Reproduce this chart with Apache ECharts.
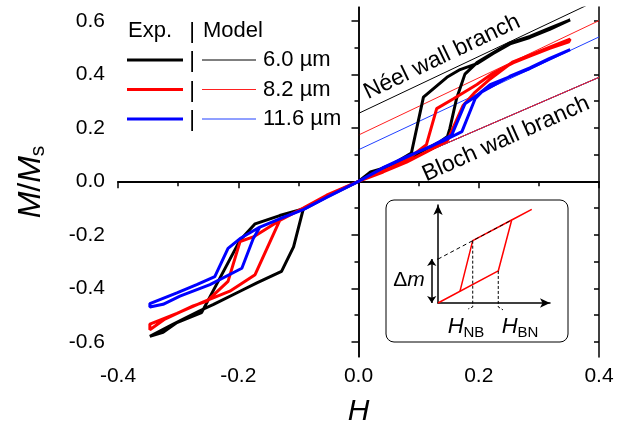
<!DOCTYPE html>
<html><head><meta charset="utf-8">
<script src="https://cdn.jsdelivr.net/npm/echarts@6/dist/echarts.min.js"></script>
<style>html,body{margin:0;padding:0;background:#fff}#c{width:632px;height:432px}</style>
</head><body><div id="c"></div>
<script>
// ---- tick values ----
const xMin = -0.4, xMax = 0.4, xStep = 0.2;
const yMajor = [-0.6, -0.4, -0.2, 0, 0.2, 0.4, 0.6];
const yMinor = [-0.5, -0.3, -0.1, 0.1, 0.3, 0.5];
const yAll = [-0.6, -0.5, -0.4, -0.3, -0.2, -0.1, 0, 0.1, 0.2, 0.3, 0.4, 0.5, 0.6];

// ---- experimental loops (H, M/Ms) ----
const exp60 = [
  [0,0],[0.02,0.035],[0.05,0.055],[0.088,0.09],[0.113,0.122],[0.136,0.148],[0.148,0.168],[0.152,0.198],[0.163,0.309],[0.177,0.401],[0.197,0.444],[0.224,0.481],[0.252,0.518],[0.285,0.542],[0.318,0.573],[0.352,0.604],
  [0.35,0.598],[0.318,0.568],[0.285,0.538],[0.252,0.514],[0.224,0.478],[0.197,0.44],[0.169,0.418],[0.147,0.389],[0.108,0.315],[0.088,0.106],[0.06,0.068],[0.03,0.04],[0,0],
  [-0.02,-0.022],[-0.053,-0.058],[-0.092,-0.105],[-0.108,-0.245],[-0.128,-0.337],[-0.169,-0.38],[-0.197,-0.411],[-0.241,-0.46],[-0.264,-0.484],[-0.308,-0.534],[-0.347,-0.58],
  [-0.347,-0.585],[-0.325,-0.565],[-0.302,-0.528],[-0.261,-0.491],[-0.197,-0.22],[-0.172,-0.159],[-0.131,-0.128],[-0.092,-0.103],[-0.053,-0.056],[0,0]
];
const exp82 = [
  [0,0],[0.041,0.035],[0.08,0.072],[0.113,0.11],[0.148,0.152],[0.152,0.173],[0.174,0.284],[0.194,0.334],[0.219,0.383],[0.257,0.447],[0.285,0.472],[0.318,0.502],[0.352,0.532],
  [0.35,0.522],[0.318,0.497],[0.285,0.468],[0.257,0.443],[0.224,0.405],[0.197,0.362],[0.158,0.309],[0.13,0.272],[0.113,0.137],[0.08,0.08],[0.041,0.038],[0,0],
  [-0.053,-0.054],[-0.092,-0.1],[-0.131,-0.146],[-0.172,-0.349],[-0.214,-0.411],[-0.258,-0.451],[-0.302,-0.494],[-0.347,-0.534],
  [-0.347,-0.555],[-0.322,-0.515],[-0.275,-0.466],[-0.252,-0.448],[-0.217,-0.374],[-0.197,-0.225],[-0.175,-0.208],[-0.153,-0.177],[-0.131,-0.146],[-0.092,-0.1],[-0.053,-0.052],[0,0]
];
const exp116 = [
  [0,0],[0.041,0.05],[0.097,0.108],[0.14,0.15],[0.172,0.186],[0.194,0.309],[0.205,0.334],[0.252,0.393],[0.285,0.424],[0.318,0.46],[0.352,0.493],
  [0.35,0.487],[0.318,0.458],[0.285,0.422],[0.252,0.392],[0.219,0.362],[0.197,0.321],[0.177,0.29],[0.155,0.173],[0.12,0.13],[0.08,0.092],[0.04,0.05],[0,0],
  [-0.053,-0.06],[-0.092,-0.106],[-0.131,-0.14],[-0.164,-0.171],[-0.175,-0.214],[-0.194,-0.325],[-0.247,-0.386],[-0.297,-0.429],[-0.325,-0.46],[-0.347,-0.47],
  [-0.347,-0.457],[-0.302,-0.417],[-0.269,-0.386],[-0.239,-0.356],[-0.217,-0.251],[-0.197,-0.214],[-0.164,-0.171],[-0.131,-0.14],[-0.092,-0.106],[-0.053,-0.06],[0,0]
];

// ---- model branches ----
const neel60 = [[0, 0.254], [0.4, 0.68]];
const neel82 = [[0, 0.173], [0.4, 0.601]];
const neel116 = [[0, 0.118], [0.4, 0.540]];
const bloch = [[0, 0], [0.4, 0.389]];

// ---- inset schematic (unit coordinates) ----
const insetLower = [[0,0],[0.538,0.327],[0.658,0.847],[0.837,0.956]];
const insetUpper = [[0.196,0.119],[0.31,0.636],[0.658,0.847]];
const insetDashed = [[0,0.448],[0.31,0.636],[0.66,0.848]];
const insetHnb = [[0.31,0.636],[0.31,-0.04],[0.27,-0.06]];
const insetHbn = [[0.538,0.327],[0.538,-0.04],[0.58,-0.07]];
const insetDm = [[-0.056,0.448],[-0.056,0]];
const insetDmTop = [[-0.08,0.448],[0,0.448]];

// ---- legend labels ----
const legendHead = ['Exp.', 'Model'];
const legendNames = ['6.0 µm', '8.2 µm', '11.6 µm'];
const colors = ['#000000', '#ff0000', '#0000ff'];
const modelColors = ['#000000', '#ff2020', '#2040ff'];

const FONT = 'Liberation Sans, Arial, sans-serif';
const fmt = v => (Math.abs(v) < 1e-9 ? 0 : v).toFixed(1);

const chart = echarts.init(document.getElementById('c'), null, {renderer: 'canvas'});

const axisLine = {show: true, lineStyle: {color: '#000', width: 1.5}};
const expSeries = [exp60, exp82, exp116].map((d, i) => ({
  type: 'line', data: d, xAxisIndex: 0, yAxisIndex: 0, showSymbol: false, symbol: 'none',
  lineStyle: {color: colors[i], width: 3}, z: 4 + i, silent: true
}));
const modelSeries = [neel60, neel82, neel116].map((d, i) => ({
  type: 'line', data: d, xAxisIndex: 0, yAxisIndex: 0, symbol: 'none',
  lineStyle: {color: modelColors[i], width: 1}, z: 3, silent: true
}));
const blochSeries = [0, 2, 1].map(i => ({
  type: 'line', data: bloch, xAxisIndex: 0, yAxisIndex: 0, symbol: 'none',
  lineStyle: {color: modelColors[i], width: 1}, z: 3, silent: true
}));
const zeroSeries = {
  type: 'line', data: [], xAxisIndex: 0, yAxisIndex: 0, z: 2,
  markLine: {silent: true, symbol: 'none', label: {show: false}, animation: false,
    lineStyle: {color: '#000', width: 1.5, type: 'solid'},
    data: [{xAxis: 0}, {yAxis: 0}]}
};
const inset = (data, style, extra) => Object.assign({
  type: 'line', data: data, xAxisIndex: 2, yAxisIndex: 3, symbol: 'none', clip: false,
  lineStyle: style, z: 10, silent: true
}, extra || {});

const legendGraphics = [];
const rowY = [60, 89.5, 119];
legendGraphics.push({type: 'text', x: 128, y: 31, style: {text: legendHead[0], font: '22px ' + FONT, fill: '#000', textVerticalAlign: 'middle'}});
legendGraphics.push({type: 'text', x: 192, y: 32, style: {text: '|', font: '22px ' + FONT, fill: '#000', textAlign: 'center', textVerticalAlign: 'middle'}});
legendGraphics.push({type: 'text', x: 203, y: 31, style: {text: legendHead[1], font: '22px ' + FONT, fill: '#000', textVerticalAlign: 'middle'}});
legendNames.forEach((n, i) => {
  legendGraphics.push({type: 'line', shape: {x1: 127, y1: rowY[i], x2: 183, y2: rowY[i]}, style: {stroke: colors[i], lineWidth: 3}});
  legendGraphics.push({type: 'text', x: 192, y: rowY[i] + 1, style: {text: '|', font: '22px ' + FONT, fill: '#000', textAlign: 'center', textVerticalAlign: 'middle'}});
  legendGraphics.push({type: 'line', shape: {x1: 202, y1: rowY[i], x2: 256, y2: rowY[i]}, style: {stroke: modelColors[i], lineWidth: 1}});
  legendGraphics.push({type: 'text', x: 263, y: rowY[i], style: {text: n, font: '22px ' + FONT, fill: '#000', textVerticalAlign: 'middle'}});
});

const option = {
  animation: false,
  backgroundColor: '#fff',
  textStyle: {fontFamily: FONT},
  grid: [
    {left: 118, top: 7, width: 481, height: 355, containLabel: false},
    {left: 438, top: 205, width: 112, height: 98, containLabel: false}
  ],
  xAxis: [
    {type: 'value', gridIndex: 0, min: xMin, max: xMax, interval: xStep, position: 'bottom',
     name: 'H', nameLocation: 'middle', nameGap: 40,
     nameTextStyle: {fontSize: 30, fontStyle: 'italic', color: '#000', fontFamily: FONT},
     axisLine: axisLine, axisTick: {show: true, length: 7, lineStyle: {color: '#000', width: 1.5}},
     minorTick: {show: true, splitNumber: 2, length: 4, lineStyle: {color: '#000', width: 1.5}},
     axisLabel: {fontSize: 21, color: '#000', margin: 9, formatter: fmt},
     splitLine: {show: false}},
    {type: 'value', gridIndex: 0, min: xMin, max: xMax, interval: 0.1, position: 'top',
     axisLine: axisLine, axisTick: {show: true, inside: true, length: 5, lineStyle: {color: '#000', width: 1.5}},
     axisLabel: {show: false}, splitLine: {show: false}},
    {type: 'value', gridIndex: 1, min: 0, max: 1,
     axisLine: {show: true, symbol: ['none', 'arrow'], symbolSize: [7, 10], lineStyle: {color: '#000', width: 1.5}},
     axisTick: {show: false}, axisLabel: {show: false}, splitLine: {show: false}}
  ],
  yAxis: [
    {type: 'value', gridIndex: 0, min: -0.657, max: 0.652, position: 'left',
     name: '{i|M}{n|/}{i|M}{s|s}', nameLocation: 'middle', nameGap: 69,
     nameTextStyle: {color: '#000', rich: {
       i: {fontSize: 32, fontStyle: 'italic', fontFamily: FONT, lineHeight: 36, verticalAlign: 'middle'},
       n: {fontSize: 32, fontFamily: FONT, lineHeight: 36, verticalAlign: 'middle'},
       s: {fontSize: 21, fontFamily: FONT, lineHeight: 21, verticalAlign: 'bottom'}}},
     axisLine: axisLine,
     axisTick: {show: true, length: 7, customValues: yMajor, lineStyle: {color: '#000', width: 1.5}},
     axisLabel: {fontSize: 21, color: '#000', margin: 13, customValues: yMajor, formatter: fmt},
     splitLine: {show: false}},
    {type: 'value', gridIndex: 0, min: -0.657, max: 0.652, position: 'left',
     axisLine: {show: false},
     axisTick: {show: true, length: 4, customValues: yMinor, lineStyle: {color: '#000', width: 1.5}},
     axisLabel: {show: false}, splitLine: {show: false}},
    {type: 'value', gridIndex: 0, min: -0.657, max: 0.652, position: 'right',
     axisLine: axisLine,
     axisTick: {show: true, inside: true, length: 5, customValues: yAll, lineStyle: {color: '#000', width: 1.5}},
     axisLabel: {show: false}, splitLine: {show: false}},
    {type: 'value', gridIndex: 1, min: 0, max: 1,
     axisLine: {show: true, symbol: ['none', 'arrow'], symbolSize: [7, 10], lineStyle: {color: '#000', width: 1.5}},
     axisTick: {show: false}, axisLabel: {show: false}, splitLine: {show: false}}
  ],
  series: [zeroSeries].concat(modelSeries, blochSeries, expSeries, [
    inset(insetLower, {color: '#ff0000', width: 1.5}),
    inset(insetUpper, {color: '#ff0000', width: 1.5}),
    inset(insetDashed, {color: '#000', width: 1, type: [4, 3]}, {z: 11}),
    inset(insetHnb, {color: '#000', width: 1, type: [3, 2]}),
    inset(insetHbn, {color: '#000', width: 1, type: [3, 2]}),
    inset(insetDmTop, {color: '#000', width: 1}),
    {type: 'lines', coordinateSystem: 'cartesian2d', xAxisIndex: 2, yAxisIndex: 3, clip: false, z: 10,
     symbol: ['arrow', 'arrow'], symbolSize: 7, silent: true,
     lineStyle: {color: '#000', width: 1.5, opacity: 1},
     data: [{coords: insetDm}]}
  ]),
  graphic: [
    {type: 'rect', shape: {x: 386, y: 200, width: 182, height: 142, r: 8}, style: {fill: 'none', stroke: '#000', lineWidth: 1}, z: 1},
    {type: 'text', x: 409, y: 280, style: {rich: {a: {fontSize: 21, fontFamily: FONT}, b: {fontSize: 21, fontStyle: 'italic', fontFamily: FONT}}, text: '{a|Δ}{b|m}', fill: '#000', textAlign: 'center', textVerticalAlign: 'middle'}},
    {type: 'text', x: 466, y: 327, style: {text: '{h|H}{s|NB}', textAlign: 'center', textVerticalAlign: 'middle', fill: '#000', rich: {
      h: {fontSize: 22, fontStyle: 'italic', fontFamily: FONT, lineHeight: 26, verticalAlign: 'middle'},
      s: {fontSize: 15, fontFamily: FONT, lineHeight: 15, verticalAlign: 'bottom'}}}},
    {type: 'text', x: 520, y: 327, style: {text: '{h|H}{s|BN}', textAlign: 'center', textVerticalAlign: 'middle', fill: '#000', rich: {
      h: {fontSize: 22, fontStyle: 'italic', fontFamily: FONT, lineHeight: 26, verticalAlign: 'middle'},
      s: {fontSize: 15, fontFamily: FONT, lineHeight: 15, verticalAlign: 'bottom'}}}},
    {type: 'text', x: 442, y: 57, rotation: 25.5 * Math.PI / 180, style: {text: 'Néel wall branch', font: '23px ' + FONT, fill: '#000', textAlign: 'center', textVerticalAlign: 'middle'}},
    {type: 'text', x: 506, y: 139, rotation: 24 * Math.PI / 180, style: {text: 'Bloch wall branch', font: '23px ' + FONT, fill: '#000', textAlign: 'center', textVerticalAlign: 'middle'}}
  ].concat(legendGraphics)
};
chart.setOption(option);
</script>
</body></html>
